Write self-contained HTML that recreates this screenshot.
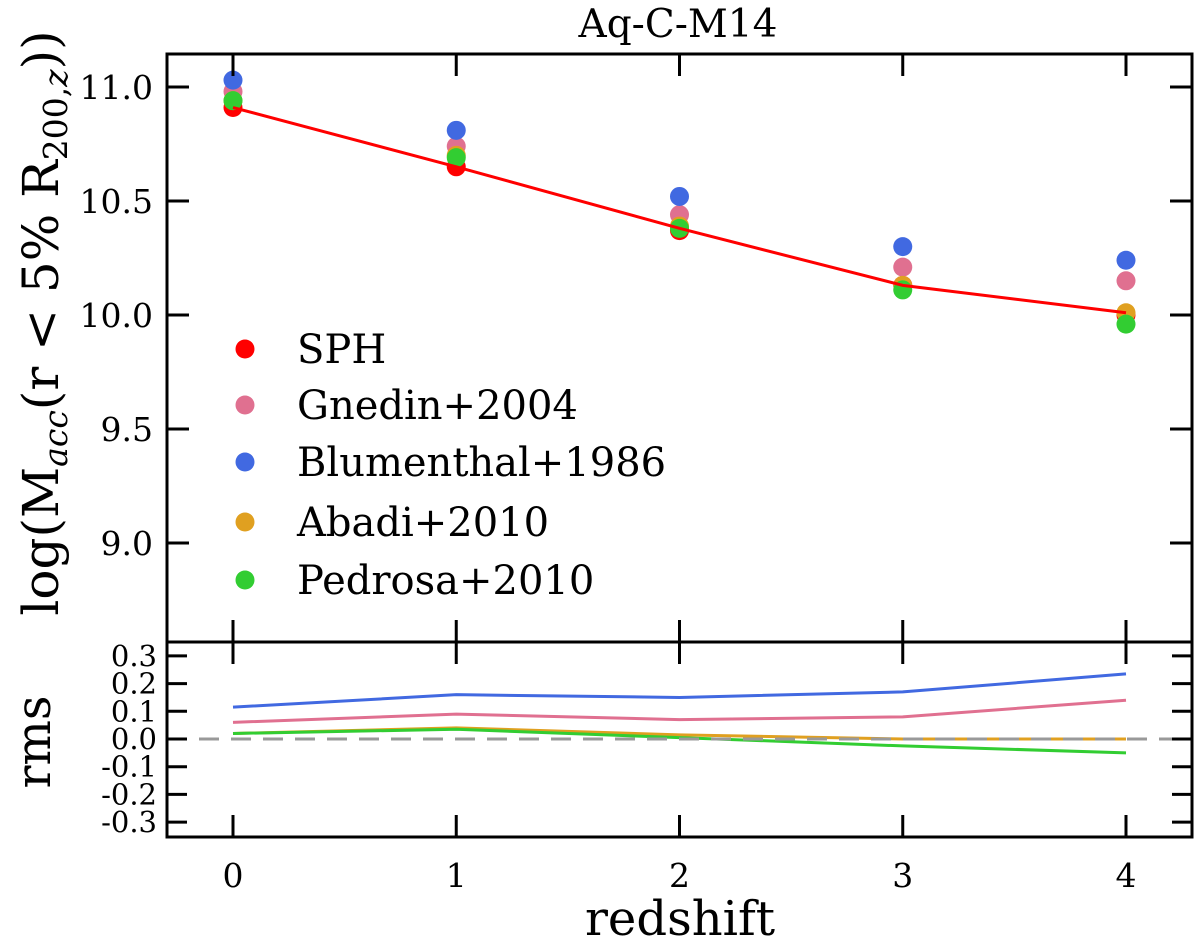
<!DOCTYPE html>
<html><head><meta charset="utf-8"><style>
body{margin:0;background:#fff}
svg text{font-family:"DejaVu Serif","Liberation Serif",serif;fill:#000}
</style></head><body>
<svg width="1200" height="945" xmlns="http://www.w3.org/2000/svg">
<g id="g"></g>
<text x="678" y="37" font-size="39" text-anchor="middle">Aq-C-M14</text>
<text x="680" y="935" font-size="48" text-anchor="middle">redshift</text>
<text transform="translate(58,323) rotate(-90)" font-size="50" text-anchor="middle">log(M<tspan font-style="italic" font-size="33" dy="9">acc</tspan><tspan dy="-9">(r &lt; 5% R</tspan><tspan font-size="33" dy="9">200,<tspan font-style="italic">z</tspan></tspan><tspan dy="-9">))</tspan></text>
<text transform="translate(50,742) rotate(-90)" font-size="48" text-anchor="middle">rms</text>
</svg>
<script>
const redshifts=[0,1,2,3,4];
const seriesNames=["SPH","Gnedin+2004","Blumenthal+1986","Abadi+2010","Pedrosa+2010"];
const seriesColors=["#ff0000","#e07090","#4169e1","#e0a020","#32cd32"];
const sphVals=[10.91,10.65,10.37,10.13,10.00];
const gnedinVals=[10.98,10.74,10.44,10.21,10.15];
const blumVals=[11.03,10.81,10.52,10.30,10.24];
const abadiVals=[10.94,10.70,10.39,10.13,10.01];
const pedrosaVals=[10.94,10.69,10.38,10.11,9.96];
const sphLine=[10.91,10.65,10.38,10.13,10.01];
const rmsGnedin=[0.06,0.09,0.07,0.08,0.14];
const rmsBlum=[0.115,0.16,0.15,0.17,0.235];
const rmsAbadi=[0.02,0.04,0.015,0.0,0.0];
const rmsPedrosa=[0.02,0.035,0.005,-0.025,-0.05];
const topTicks=[9.0,9.5,10.0,10.5,11.0];
const rmsTicks=[-0.3,-0.2,-0.1,0.0,0.1,0.2,0.3];

const NS="http://www.w3.org/2000/svg",G=document.getElementById('g');
function el(t,a,txt){const e=document.createElementNS(NS,t);for(const k in a)e.setAttribute(k,a[k]);if(txt!==undefined)e.textContent=txt;G.appendChild(e);return e;}
const L=167,R=1192,T1=54,B1=642,B2=837;
const X=v=>233+(v-0)*223.25;
const Y1=v=>87+(11-v)*228;
const Y2=v=>739-v*277;

const allVals=[sphVals,gnedinVals,blumVals,abadiVals,pedrosaVals];
allVals.forEach((arr,si)=>{arr.forEach((v,i)=>{
 const c=el('circle',{cx:X(redshifts[i]),cy:Y1(v),r:9.5,fill:seriesColors[si]});
 
 
});});
const sl=el('polyline',{points:sphLine.map((v,i)=>X(redshifts[i])+','+Y1(v)).join(' '),fill:'none',stroke:'#ff0000','stroke-width':3});



[[rmsGnedin,1],[rmsBlum,2],[rmsAbadi,3],[rmsPedrosa,4]].forEach(([arr,si])=>{
 const p=el('polyline',{points:arr.map((v,i)=>X(redshifts[i])+','+Y2(v)).join(' '),fill:'none',stroke:seriesColors[si],'stroke-width':3});
 
 
});
const zl=el('line',{x1:L,x2:R,y1:Y2(0),y2:Y2(0),stroke:'#999','stroke-width':3,'stroke-dasharray':'20,12'});



[[T1,B1],[B1,B2]].forEach(([t,b],k)=>{
 const r=el('rect',{x:L,y:t,width:R-L,height:b-t,fill:'none',stroke:'#000','stroke-width':3});
 
 
});
redshifts.forEach(z=>{
 [[T1,1],[B1,-1],[B1,1],[B2,-1]].forEach(([y,d])=>el('line',{x1:X(z),x2:X(z),y1:y,y2:y+d*22,stroke:'#000','stroke-width':3}));
 const t=el('text',{x:X(z),y:887,'font-size':33,'text-anchor':'middle'},String(z));
 
 
});
topTicks.forEach(v=>{
 el('line',{x1:L,x2:L+22,y1:Y1(v),y2:Y1(v),stroke:'#000','stroke-width':3});
 el('line',{x1:R,x2:R-22,y1:Y1(v),y2:Y1(v),stroke:'#000','stroke-width':3});
 const t=el('text',{x:L-14,y:Y1(v)+12,'font-size':33,'text-anchor':'end'},v.toFixed(1));
 
 
});
rmsTicks.forEach(v=>{
 el('line',{x1:L,x2:L+20,y1:Y2(v),y2:Y2(v),stroke:'#000','stroke-width':3});
 el('line',{x1:R,x2:R-20,y1:Y2(v),y2:Y2(v),stroke:'#000','stroke-width':3});
 const t=el('text',{x:L-10,y:Y2(v)+10,'font-size':29,'text-anchor':'end'},v.toFixed(1));
 
 
});
const legY=[349,405,462,522,580];
seriesNames.forEach((n,i)=>{
 const c=el('circle',{cx:245,cy:legY[i],r:9.5,fill:seriesColors[i]});
 
 
 const t=el('text',{x:297,y:legY[i]+14,'font-size':40},n);
 
 
});
</script>
</body></html>
